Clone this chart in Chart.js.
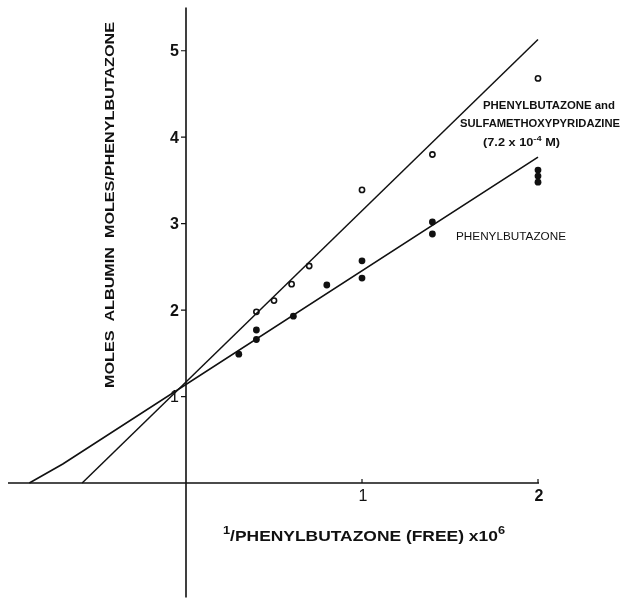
<!DOCTYPE html>
<html>
<head>
<meta charset="utf-8">
<script src="https://cdn.jsdelivr.net/npm/chart.js@4.4.1/dist/chart.umd.min.js"></script>
<style>
  html, body { margin: 0; padding: 0; background: #fff; }
  #wrap { width: 624px; height: 601px; position: relative; }
</style>
</head>
<body>
<div id="wrap"><canvas id="chart"></canvas></div>
<script>
// data
const openX = [0.40, 0.50, 0.60, 0.70, 1.00, 1.40, 2.00];
const openY = [1.98, 2.11, 2.30, 2.51, 3.39, 3.80, 4.68];

const filledX = [0.30, 0.40, 0.40, 0.61, 0.80, 1.00, 1.00, 1.40, 1.40, 2.00, 2.00, 2.00];
const filledY = [1.49, 1.77, 1.66, 1.93, 2.29, 2.57, 2.37, 3.02, 2.88, 3.62, 3.55, 3.48];

// fitted lines (end points as drawn)
const comboLineX = [-0.59, 2.00];
const comboLineY = [0, 5.13];
const phenylLineX = [-0.89, -0.70, 2.00];
const phenylLineY = [0, 0.22, 3.77];

// axes
const xTicks = [1, 2];
const yTicks = [1, 2, 3, 4, 5];
const xMin = -1.0, xMax = 2.0;
const yMin = -1.3, yMax = 5.5;

// text pieces: [text, superscript?]
const xTitle = [['1', true], ['/PHENYLBUTAZONE (FREE) x10', false], ['6', true]];
const yTitle = 'MOLES  ALBUMIN  MOLES/PHENYLBUTAZONE';
const comboLabel1 = 'PHENYLBUTAZONE and';
const comboLabel2 = 'SULFAMETHOXYPYRIDAZINE';
const comboLabel3 = [['(7.2 x 10', false], ['-4', true], [' M)', false]];
const phenylLabel = 'PHENYLBUTAZONE';

const toPts = (xs, ys) => xs.map((x, i) => ({ x: x, y: ys[i] }));

// draw text (plain or with superscript pieces) stretched to a given width
function fitText(ctx, text, x, y, width, size, weight) {
  const parts = typeof text === 'string' ? [[text, false]] : text;
  const fam = '"Liberation Sans", Arial, sans-serif';
  const fontFor = sup => weight + ' ' + (sup ? Math.round(size * 0.72) : size) + 'px ' + fam;
  ctx.save();
  let w = 0;
  parts.forEach(p => { ctx.font = fontFor(p[1]); w += ctx.measureText(p[0]).width; });
  ctx.translate(x, y);
  ctx.scale(width / w, 1);
  ctx.textAlign = 'left';
  ctx.textBaseline = 'middle';
  let cx = 0;
  parts.forEach(p => {
    ctx.font = fontFor(p[1]);
    ctx.fillText(p[0], cx, p[1] ? -size * 0.38 : 0);
    cx += ctx.measureText(p[0]).width;
  });
  ctx.restore();
}

const drawAxes = {
  id: 'drawAxes',
  beforeDatasetsDraw(chart) {
    const ctx = chart.ctx;
    const xs = chart.scales.x, ys = chart.scales.y;
    const x0 = xs.getPixelForValue(0), y0 = ys.getPixelForValue(0);
    ctx.save();
    ctx.strokeStyle = '#111';
    ctx.lineWidth = 1.6;
    ctx.beginPath();
    ctx.moveTo(xs.getPixelForValue(xMin) - 2, y0);
    ctx.lineTo(xs.getPixelForValue(xMax) + 1, y0);
    ctx.moveTo(x0, ys.getPixelForValue(yMax));
    ctx.lineTo(x0, ys.getPixelForValue(yMin) + 2);
    ctx.stroke();

    ctx.lineWidth = 1.2;
    ctx.beginPath();
    yTicks.forEach(v => {
      const p = ys.getPixelForValue(v);
      ctx.moveTo(x0 - 5, p);
      ctx.lineTo(x0, p);
    });
    xTicks.forEach(v => {
      const p = xs.getPixelForValue(v);
      ctx.moveTo(p, y0);
      ctx.lineTo(p, y0 - 4);
    });
    ctx.stroke();

    ctx.fillStyle = '#111';
    ctx.textBaseline = 'middle';
    yTicks.forEach(v => {
      ctx.font = (v === 1 ? '' : 'bold ') + '16px "Liberation Sans", Arial, sans-serif';
      ctx.textAlign = 'right';
      ctx.fillText(String(v), x0 - 7, ys.getPixelForValue(v) + 1);
    });
    xTicks.forEach(v => {
      ctx.font = (v === 1 ? '' : 'bold ') + '16px "Liberation Sans", Arial, sans-serif';
      ctx.textAlign = 'center';
      ctx.fillText(String(v), xs.getPixelForValue(v) + 1, y0 + 14);
    });
    ctx.restore();
  },
  afterDatasetsDraw(chart) {
    const ctx = chart.ctx;
    ctx.save();
    ctx.fillStyle = '#111';
    // y title
    ctx.save();
    ctx.translate(110, 388);
    ctx.rotate(-Math.PI / 2);
    fitText(ctx, yTitle, 0, 0, 366, 13, 'bold');
    ctx.restore();
    // x title
    fitText(ctx, xTitle, 223, 537, 282, 15, 'bold');
    // series labels
    fitText(ctx, comboLabel1, 483, 106, 132, 11, 'bold');
    fitText(ctx, comboLabel2, 460, 124, 160, 11, 'bold');
    fitText(ctx, comboLabel3, 483, 143, 77, 11, 'bold');
    fitText(ctx, phenylLabel, 456, 237, 110, 11, 'normal');
    ctx.restore();
  }
};

new Chart(document.getElementById('chart'), {
  type: 'scatter',
  data: {
    datasets: [
      {
        label: 'combo line',
        data: toPts(comboLineX, comboLineY),
        showLine: true,
        borderColor: '#111',
        borderWidth: 1.5,
        pointRadius: 0,
        clip: false
      },
      {
        label: 'phenyl line',
        data: toPts(phenylLineX, phenylLineY),
        showLine: true,
        borderColor: '#111',
        borderWidth: 1.6,
        pointRadius: 0,
        clip: false
      },
      {
        label: 'Phenylbutazone and sulfamethoxypyridazine',
        data: toPts(openX, openY),
        pointRadius: 2.6,
        pointBorderWidth: 1.6,
        pointBackgroundColor: '#fff',
        pointBorderColor: '#111',
        clip: false
      },
      {
        label: 'Phenylbutazone',
        data: toPts(filledX, filledY),
        pointRadius: 3.4,
        pointBorderWidth: 0,
        pointBackgroundColor: '#111',
        pointBorderColor: '#111',
        clip: false
      }
    ]
  },
  options: {
    responsive: true,
    maintainAspectRatio: false,
    animation: false,
    layout: { padding: { left: 10, right: 86, top: 7.5, bottom: 1.9 } },
    plugins: { legend: { display: false }, tooltip: { enabled: false } },
    scales: {
      x: { type: 'linear', min: xMin, max: xMax, display: false },
      y: { type: 'linear', min: yMin, max: yMax, display: false }
    }
  },
  plugins: [drawAxes]
});
</script>
</body>
</html>
